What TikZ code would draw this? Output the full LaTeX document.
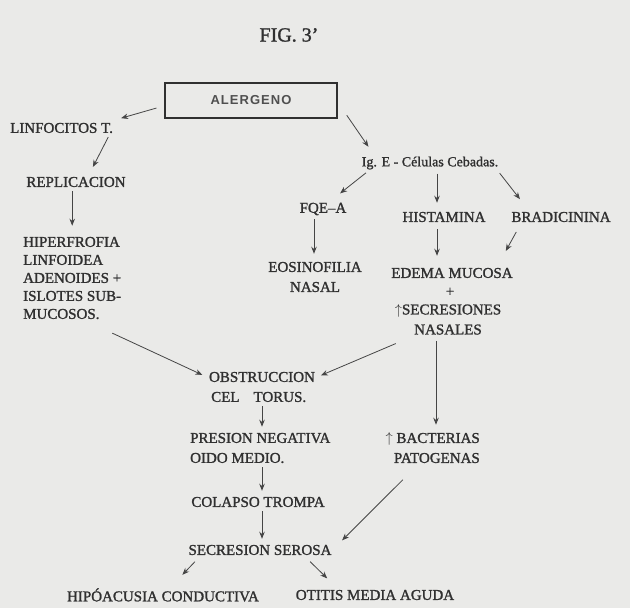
\documentclass[tikz,border=0pt]{standalone}
\usepackage{fontspec}
\setmainfont[FakeBold=1.4]{Liberation Serif}
\newfontfamily\boxfont[LetterSpace=8]{Liberation Sans}
\usetikzlibrary{arrows.meta,calc}
\definecolor{paper}{RGB}{234,234,232}
\definecolor{ink}{RGB}{48,48,48}
\tikzset{
  lbl/.style={inner sep=2pt, text=ink, font=\fontsize{15}{20}\selectfont},
  alerbox/.style={draw=ink, line width=1.3pt, minimum width=172pt, minimum height=35pt,
    text=ink!85, font=\boxfont\bfseries\fontsize{13}{16}\selectfont},
  arr/.style={draw=ink!90, line width=0.8pt, -{Stealth[length=7pt,width=5.5pt]},
    shorten <=2pt, shorten >=2pt}
}
\begin{document}
\begin{tikzpicture}[x=1pt,y=-1pt]
% page
\fill[paper] (0,0) rectangle (630,608);
\useasboundingbox (0,0) rectangle (630,608);

% title and top
\node[lbl, font=\fontsize{20}{24}\selectfont] (fig) at (289,35) {FIG. 3'};
\node[alerbox] (alergeno) at (251,100.5) {ALERGENO};

% left branch
\node[lbl, anchor=west] (linfo) at (8,128) {LINFOCITOS T.};
\node[lbl] (replic) at (76,182) {REPLICACION};
\node[lbl, anchor=west, align=left, font=\fontsize{15}{18}\selectfont] (hiper) at (21,278)
  {HIPERFROFIA\\LINFOIDEA\\ADENOIDES +\\ISLOTES SUB-\\MUCOSOS.};

% right branch
\node[lbl, font=\fontsize{14}{18}\selectfont] (ige) at (430,163) {Ig. E - Células Cebadas.};
\node[lbl] (fqe) at (323,209) {FQE--A};
\node[lbl, align=center] (eosin) at (315,277) {EOSINOFILIA\\NASAL};
\node[lbl] (hista) at (444,217) {HISTAMINA};
\node[lbl] (bradi) at (561,217) {BRADICININA};
\node[lbl] (edema) at (452,273) {EDEMA MUCOSA};
\node[lbl] (plus) at (450,292) {+};
\node[lbl, align=center] (secre) at (448,319.5) {$\uparrow$SECRESIONES\\NASALES};

% middle column
\node[lbl] (obstr) at (262,377) {OBSTRUCCION};
\node[lbl, anchor=west] (torus) at (209,397) {CEL\hspace{14pt}TORUS.};
\node[lbl, anchor=west, align=left] (presion) at (188,448) {PRESION NEGATIVA\\OIDO MEDIO.};
\node[lbl, anchor=east, align=right] (bact) at (482,448) {$\uparrow$ BACTERIAS\\PATOGENAS};
\node[lbl] (colapso) at (258,502) {COLAPSO TROMPA};
\node[lbl] (serosa) at (260,550) {SECRESION SEROSA};
\node[lbl] (hipo) at (163,595) {HIPÓACUSIA CONDUCTIVA};
\node[lbl] (otitis) at (375,595) {OTITIS MEDIA AGUDA};

% arrows
\draw[arr] ($(alergeno.west)+(-6,7)$) -- ($(linfo.north east)+(4,-2)$);
\draw[arr] ($(linfo.south east)+(-6,0)$) -- ($(replic.north)+(16,-6)$);
\draw[arr, shorten >=9pt] (replic.south -| hiper.north) -- (hiper.north);
\draw[arr] ($(alergeno.south east)+(8,-5)$) -- ($(ige.north west)+(10,-6)$);
\draw[arr] ($(ige.south west)+(8,0)$) -- ($(fqe.north east)+(-10,-6)$);
\draw[arr, shorten >=7pt] ($(hista.north |- ige.south)+(-7,0)$) -- ($(hista.north)+(-7,0)$);
\draw[arr] ($(ige.south east)+(-2,0)$) -- ($(bradi.north west)+(12,-9)$);
\draw[arr, shorten <=5pt, shorten >=10pt] ($(hista.south)+(-7,0)$) -- ($(edema.north -| hista.south)+(-7,0)$);
\draw[arr] ($(bradi.south west)+(8,6)$) -- ($(edema.north east)+(-10,-13)$);
\draw[arr, shorten >=6pt] ($(fqe.south)+(-9,0)$) -- ($(eosin.north -| fqe.south)+(-9,0)$);
\draw[arr, shorten >=5pt] ($(hiper.south east)+(-13,11)$) -- (obstr.west);
\draw[arr, shorten >=4pt] ($(secre.south west)+(5,6)$) -- (obstr.east);
\draw[arr, shorten <=4pt, shorten >=6pt] ($(secre.south)+(-12,0)$) -- ($(bact.north -| secre.south)+(-12,0)$);
\draw[arr, shorten >=4pt] (torus.south -| obstr.south) -- (presion.north -| obstr.south);
\draw[arr, shorten >=4pt] (presion.south -| obstr.south) -- (colapso.north -| obstr.south);
\draw[arr, shorten >=4pt] (colapso.south -| obstr.south) -- (serosa.north -| obstr.south);
\draw[arr] ($(bact.south west)+(21,13)$) -- ($(serosa.north east)+(7,-1)$);
\draw[arr] ($(serosa.south west)+(10,3)$) -- ($(hipo.north)+(18,-10)$);
\draw[arr] ($(serosa.south east)+(-25,3)$) -- ($(otitis.north west)+(35,-8)$);
\end{tikzpicture}
\end{document}
